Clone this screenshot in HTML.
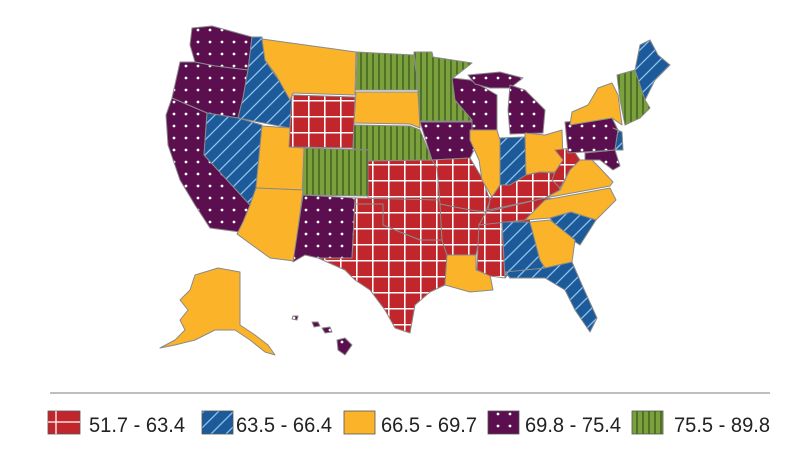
<!DOCTYPE html>
<html><head><meta charset="utf-8"><style>
html,body{margin:0;padding:0;background:#fff;width:800px;height:466px;overflow:hidden}
svg{display:block}
text{font-family:"Liberation Sans",sans-serif;font-size:21px;fill:#222}
</style></head><body>
<svg width="800" height="466" viewBox="0 0 800 466">
<defs>
<pattern id="r" patternUnits="userSpaceOnUse" width="16" height="16" x="4" y="4"><rect width="16" height="16" fill="#c1262c"/><path d="M0 0.75H16M0.75 0V16" stroke="#fff" stroke-width="1.6"/></pattern>
<pattern id="b" patternUnits="userSpaceOnUse" width="15" height="15"><rect width="15" height="15" fill="#1d5a9a"/><path d="M-2 17L17 -2M-5 5L5 -5M10 20L20 10" stroke="#8fc4ee" stroke-width="1.3"/></pattern>
<pattern id="y" patternUnits="userSpaceOnUse" width="10" height="10"><rect width="10" height="10" fill="#fbb429"/></pattern>
<pattern id="p" patternUnits="userSpaceOnUse" width="12" height="12"><rect width="12" height="12" fill="#5b0f4e"/><circle cx="6" cy="6" r="1.4" fill="#fff"/></pattern>
<pattern id="g" patternUnits="userSpaceOnUse" width="6" height="6"><rect width="6" height="6" fill="#7aa13b"/><path d="M1 0V6" stroke="#2f4a18" stroke-width="1.1"/></pattern>
</defs>
<polygon fill="url(#r)" points="436,198 495,196 530,200 530,222 505,222 478,226 476,256 445,256 440,230"/>
<g stroke="#8a8a8a" stroke-width="1" stroke-linejoin="round">
<polygon fill="url(#p)" points="192,28 212,26 252,37 248,70 215,66 195,62 190,45"/>
<polygon fill="url(#p)" points="180,62 195,62 215,66 248,70 243,98 238,118 207,113 172,98 176,80"/>
<polygon fill="url(#b)" points="252,37 262,37 265,60 275,75 292,98 290,128 238,118 243,98 248,70"/>
<polygon fill="url(#y)" points="262,39 356,52 355,95 293,93 290,100 276,75 265,60"/>
<polygon fill="url(#r)" points="292,95 355,97 353,148 288,147 290,128"/>
<polygon fill="url(#p)" points="172,98 207,113 204,155 250,205 247,220 240,232 210,228 195,205 180,180 168,145 166,115"/>
<polygon fill="url(#b)" points="207,113 238,118 262,125 256,188 250,205 204,155"/>
<polygon fill="url(#y)" points="262,126 290,128 289,147 304,148 303,190 256,188"/>
<polygon fill="url(#g)" points="304,148 368,150 368,196 302,195"/>
<polygon fill="url(#y)" points="256,188 303,190 294,261 270,258 237,234 243,222 250,205"/>
<polygon fill="url(#p)" points="303,195 355,198 352,258 318,258 305,255 293,262"/>
<polygon fill="url(#g)" points="357,52 414,55 418,90 356,90"/>
<polygon fill="url(#y)" points="356,92 418,92 420,128 410,124 354,123"/>
<polygon fill="url(#g)" points="354,125 410,126 420,130 432,160 368,161 368,150 353,149"/>
<polygon fill="url(#g)" points="414,52 432,52 433,57 472,63 453,78 455,100 473,121 420,121 418,90"/>
<polygon fill="url(#r)" points="368,161 432,160 437,168 440,200 368,200"/>
<polygon fill="url(#r)" points="355,198 440,200 442,240 420,240 400,232 383,225 383,204 355,204"/>
<polygon fill="url(#r)" points="355,204 383,204 383,225 400,232 420,240 442,240 447,255 445,285 430,292 415,305 410,333 395,328 385,310 370,290 355,280 345,270 318,258 352,258"/>
<polygon fill="url(#p)" points="420,122 472,122 479,140 470,158 432,160"/>
<polygon fill="url(#r)" points="432,160 470,158 482,178 490,200 486,212 470,210 440,204 437,168"/>
<polygon fill="url(#r)" points="440,204 470,210 486,212 479,240 476,255 447,255 442,240"/>
<polygon fill="url(#y)" points="447,255 476,255 476,270 490,275 493,290 470,292 445,285"/>
<polygon fill="url(#r)" points="479,224 502,222 505,278 490,276 477,270 478,245"/>
<polygon fill="url(#p)" points="452,78 470,80 485,88 497,95 497,130 472,130 472,120 455,100"/>
<polygon fill="url(#p)" points="468,75 500,72 523,78 510,88 490,88 475,84"/>
<polygon fill="url(#p)" points="510,85 525,90 535,100 545,110 543,133 510,134 508,110"/>
<polygon fill="url(#y)" points="470,130 497,130 500,140 500,185 492,197 482,180 479,160 470,140"/>
<polygon fill="url(#b)" points="500,138 525,137 526,175 510,185 500,185"/>
<polygon fill="url(#y)" points="525,133 545,135 562,130 563,160 555,172 540,172 526,175"/>
<polygon fill="url(#r)" points="490,200 500,185 510,185 526,175 540,172 555,173 560,190 545,198 488,210"/>
<polygon fill="url(#r)" points="486,212 545,198 562,200 525,220 479,225"/>
<polygon fill="url(#r)" points="555,150 572,148 580,160 570,170 560,188 552,180 555,172 563,160"/>
<polygon fill="url(#y)" points="560,190 570,170 580,160 592,160 600,168 613,182 610,186 545,198"/>
<polygon fill="url(#y)" points="525,220 545,200 610,188 616,200 596,220 571,212 550,218"/>
<polygon fill="url(#b)" points="550,218 571,212 596,220 580,245 560,232"/>
<polygon fill="url(#b)" points="502,222 530,222 540,260 545,268 510,272 505,278"/>
<polygon fill="url(#y)" points="530,222 550,220 575,240 572,262 545,268 540,260"/>
<polygon fill="url(#b)" points="505,272 545,268 572,262 582,285 597,318 590,332 575,310 565,290 545,278 510,278"/>
<polygon fill="url(#p)" points="565,122 612,118 618,130 615,150 568,153"/>
<polygon fill="url(#p)" points="585,153 615,150 620,166 613,170 600,160 585,160"/>
<polygon fill="url(#b)" points="613,128 622,132 623,150 615,150 618,130"/>
<polygon fill="url(#y)" points="572,112 588,105 598,88 612,83 618,95 622,125 612,118 570,125"/>
<polygon fill="url(#g)" points="617,75 635,70 645,100 650,108 640,118 625,125 620,100"/>
<polygon fill="url(#b)" points="635,70 640,45 650,40 658,55 670,65 655,80 645,100"/>
<polygon fill="url(#y)" points="195,275 218,268 240,272 240,325 255,335 268,345 275,355 265,352 250,340 235,330 215,330 195,340 175,345 160,348 175,340 185,330 180,320 188,310 180,300 190,290"/>
<polygon fill="url(#p)" points="337,340 345,338 352,345 345,355 338,350"/>
<polygon fill="url(#p)" points="312,322 318,322 320,326 314,327"/>
<polygon fill="url(#p)" points="322,328 330,327 332,332 325,333"/>
<polygon fill="url(#p)" points="293,316 298,316 297,320 292,319"/>
</g>
<line x1="50" y1="393" x2="770" y2="393" stroke="#aaa" stroke-width="1.5"/>
<g stroke="#555" stroke-width="0.8">
<rect x="48" y="411" width="32" height="23" fill="#c1262c"/>
<path d="M56 411V434M48 422H80" stroke="#fff" stroke-width="1.3"/>
<rect x="202" y="411" width="31" height="23" fill="url(#b)"/>
<rect x="344" y="411" width="31" height="23" fill="#fbb429"/>
<rect x="488" y="411" width="31" height="23" fill="url(#p)"/>
<rect x="632" y="411" width="31" height="23" fill="url(#g)"/>
</g>
<text x="89" y="432" textLength="96" lengthAdjust="spacingAndGlyphs">51.7 - 63.4</text>
<text x="236" y="432" textLength="96" lengthAdjust="spacingAndGlyphs">63.5 - 66.4</text>
<text x="381" y="432" textLength="96" lengthAdjust="spacingAndGlyphs">66.5 - 69.7</text>
<text x="525" y="432" textLength="96" lengthAdjust="spacingAndGlyphs">69.8 - 75.4</text>
<text x="674" y="432" textLength="96" lengthAdjust="spacingAndGlyphs">75.5 - 89.8</text>
</svg>
</body></html>
